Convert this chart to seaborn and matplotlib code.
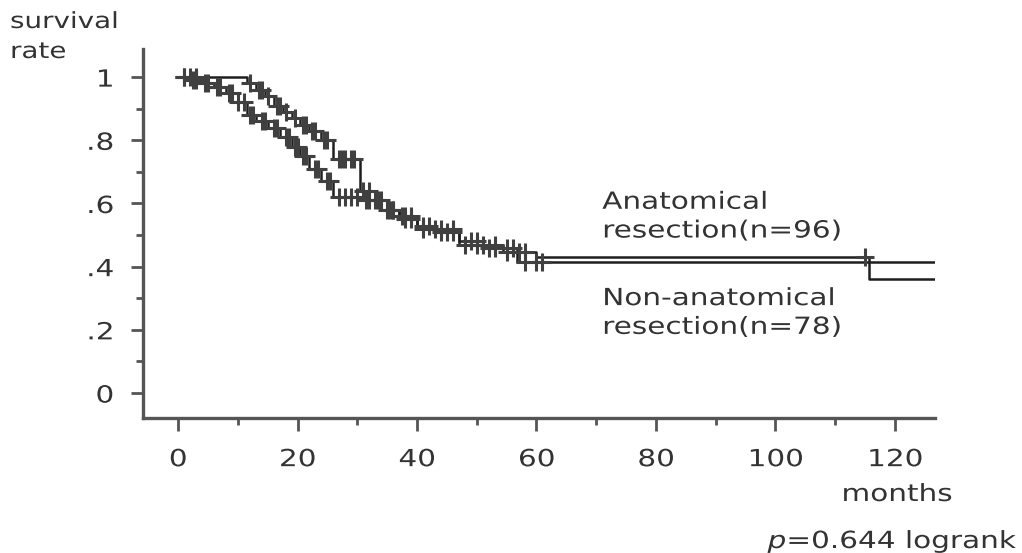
import numpy as np
import pandas as pd
import matplotlib
matplotlib.use('Agg')
import matplotlib.pyplot as plt
import matplotlib.transforms as mtransforms
from matplotlib.patheffects import AbstractPathEffect
import seaborn as sns

# Kaplan-Meier steps (months, survival after step)
anat_t = [0, 11.5, 13, 14.5, 16, 17.5, 19, 20.5, 22, 24, 26, 30.5, 33, 35, 37, 40, 43, 47, 51, 56.7, 127]
anat_s = [1.0, 0.98, 0.96, 0.94, 0.91, 0.89, 0.87, 0.85, 0.83, 0.80, 0.74, 0.64, 0.61, 0.58, 0.56, 0.53, 0.51, 0.48, 0.46, 0.415, 0.415]
anat_cens = [1, 2, 3, 12, 13.5, 14, 15, 16.5, 17, 18, 19.5, 21, 21.5, 22.5, 23, 24.5, 25, 27,
             27.5, 28, 29, 29.5, 31, 32, 33.5, 34, 35.5, 36, 37.5, 38, 39, 41, 42, 44, 45,
             46, 49, 50, 52, 53, 55, 56, 58, 60, 61]

non_t = [0, 2, 4, 6, 8, 10, 11.5, 13, 15, 17, 19, 20.5, 22, 24, 26, 31, 34, 37, 40, 47, 54.4, 60, 115.6, 127]
non_s = [1.0, 0.99, 0.98, 0.97, 0.95, 0.92, 0.88, 0.86, 0.84, 0.81, 0.78, 0.75, 0.71, 0.67, 0.62, 0.61, 0.58, 0.55, 0.52, 0.47, 0.445, 0.43, 0.36, 0.36]
non_cens = [1, 2.5, 3, 4.5, 5, 6.5, 7, 8.5, 9, 10, 11, 12, 12.5, 14, 14.5, 16, 16.5, 18, 18.5,
            19.5, 20, 21, 21.5, 23, 23.5, 25, 25.5, 27, 28, 29, 30, 31.5, 32, 33, 35, 36, 38,
            39, 41, 43, 44, 46, 48, 50, 51, 53, 55, 57, 58, 115]

x_ticks = [0, 20, 40, 60, 80, 100, 120]
y_ticks = [0, 0.2, 0.4, 0.6, 0.8, 1.0]
y_ticklabels = ['0', '.2', '.4', '.6', '.8', '1']

TEXT = '#333333'
LINE = '#1e1e1e'
AXC = '#555555'
FS = 17

sns.set_style('ticks')
plt.rcParams['font.family'] = ['DejaVu Sans']


class Stretch(AbstractPathEffect):
    """Widen text horizontally; the scanned font is broader than DejaVu."""
    def __init__(self, sx=1.25, anchor='left'):
        super().__init__()
        self.sx = sx
        self.anchor = anchor

    def draw_path(self, renderer, gc, tpath, affine, rgbFace=None):
        xs = tpath.vertices[:, 0] if len(tpath.vertices) else np.array([0.0])
        if self.anchor == 'center':
            cx = (xs.min() + xs.max()) / 2
        elif self.anchor == 'right':
            cx = xs.max()
        else:
            cx = 0.0
        st = mtransforms.Affine2D().translate(-cx, 0).scale(self.sx, 1).translate(cx, 0)
        renderer.draw_path(gc, tpath, st + affine, rgbFace)


def surv_at(times, surv, when):
    idx = np.searchsorted(times, when, side='right') - 1
    return np.asarray(surv)[idx]


fig = plt.figure(figsize=(10.22, 5.53), dpi=100)
fig.patch.set_facecolor('white')
ax = fig.add_axes([143 / 1022, 1 - 418 / 553, (935 - 143) / 1022, (418 - 49) / 553])

for t, s, cens in [(anat_t, anat_s, anat_cens), (non_t, non_s, non_cens)]:
    df = pd.DataFrame({'months': t, 'surv': s})
    sns.lineplot(data=df, x='months', y='surv', ax=ax, color=LINE,
                 linewidth=1.8, drawstyle='steps-post', sort=False)
    cdf = pd.DataFrame({'months': cens, 'surv': surv_at(t, s, cens)})
    sns.scatterplot(data=cdf, x='months', y='surv', ax=ax, marker='+',
                    s=150, linewidth=2.2, color='#404040', zorder=3)

ax.set_xlim(-5.86, 126.7)
ax.set_ylim(-0.079, 1.089)
ax.set_xticks(x_ticks)
ax.set_xticks(np.arange(10, 121, 20), minor=True)
ax.set_yticks(y_ticks)
ax.set_yticklabels(y_ticklabels)
ax.set_yticks(np.arange(0.1, 1.0, 0.2), minor=True)
ax.set_xlabel('')
ax.set_ylabel('')
ax.tick_params(which='major', length=9, width=2, color=AXC,
               labelsize=FS, labelcolor=TEXT, pad=12)
ax.tick_params(which='minor', length=5, width=2, color=AXC)
sns.despine(ax=ax)
for side in ['left', 'bottom']:
    ax.spines[side].set_linewidth(2.4)
    ax.spines[side].set_color(AXC)

for lbl in ax.get_xticklabels():
    lbl.set_path_effects([Stretch(1.25, 'center')])
for lbl in ax.get_yticklabels():
    lbl.set_path_effects([Stretch(1.25, 'right')])

left_fx = [Stretch(1.25, 'left')]
ax.text(71, 0.56, 'Anatomical\nresection(n=96)', fontsize=FS, color=TEXT,
        va='center', ha='left', linespacing=1.25, path_effects=left_fx)
ax.text(71, 0.255, 'Non-anatomical\nresection(n=78)', fontsize=FS, color=TEXT,
        va='center', ha='left', linespacing=1.25, path_effects=left_fx)

fig.text(10 / 1022, 1 - 22 / 553, 'survival', fontsize=16, color=TEXT,
         ha='left', va='center', path_effects=left_fx)
fig.text(10 / 1022, 1 - 52 / 553, 'rate', fontsize=16, color=TEXT,
         ha='left', va='center', path_effects=left_fx)
fig.text(897 / 1022, 1 - 494 / 553, 'months', fontsize=FS, color=TEXT,
         ha='center', va='center', path_effects=[Stretch(1.25, 'center')])
fig.text(1018 / 1022, 1 - 541 / 553, r'$p$=0.644 logrank', fontsize=FS,
         color=TEXT, ha='right', va='center', path_effects=[Stretch(1.25, 'right')])

fig.savefig('out.png', dpi=100, facecolor='white')
